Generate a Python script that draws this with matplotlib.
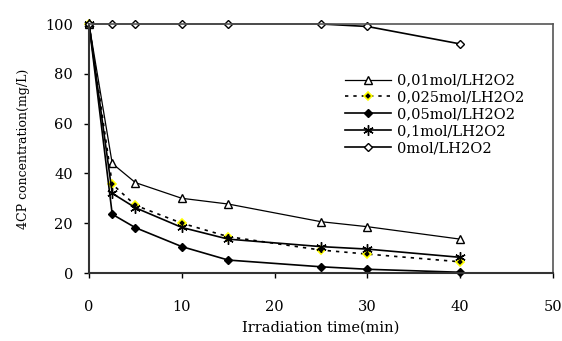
import matplotlib.pyplot as plt
import numpy as np

plt.rcParams['font.family'] = ['DejaVu Serif']

time_min = [0, 2.5, 5, 10, 15, 25, 30, 40]
h2o2_001 = [100, 44, 36.3, 30, 27.7, 20.6, 18.6, 13.6]
h2o2_0025 = [100, 35.7, 27.2, 20, 14.6, 9.2, 7.6, 4.5]
h2o2_005 = [100, 23.6, 18.2, 10.6, 5.2, 2.5, 1.5, 0.3]
h2o2_01 = [100, 32, 26.2, 18.3, 13.6, 10.6, 9.6, 6.3]
h2o2_0 = [100, 100, 100, 100, 100, 100, 99, 92]
labels = ["0,01mol/LH2O2", "0,025mol/LH2O2", "0,05mol/LH2O2", "0,1mol/LH2O2", "0mol/LH2O2"]

fig = plt.figure(figsize=(5.62, 3.41), dpi=100)
ax = fig.add_axes([0.1584, 0.1994, 0.984 - 0.1584, 0.9296 - 0.1994])

ax.plot(time_min, h2o2_001, color='black', lw=0.9, marker='^', ms=5.5,
        mfc='white', mec='black', mew=1.0, label=labels[0], clip_on=False)
ax.plot(time_min, h2o2_0025, color='black', lw=1.2, ls=(0, (2, 3)), marker='D', ms=4.5,
        mfc='black', mec='yellow', mew=1.2, label=labels[1], clip_on=False)
ax.plot(time_min, h2o2_005, color='black', lw=1.2, marker='D', ms=4.5,
        mfc='black', mec='black', label=labels[2], clip_on=False)
ax.plot(time_min, h2o2_01, color='black', lw=1.2, marker=(6, 2, 0), ms=7.5,
        mec='black', mew=1.0, label=labels[3], clip_on=False)
ax.plot(time_min, h2o2_0, color='black', lw=1.2, marker='D', ms=4.5,
        mfc='white', mec='black', mew=1.0, label=labels[4], clip_on=False)

ax.set_xlim(0, 50)
ax.set_ylim(0, 100)
ax.set_xticks(np.arange(0, 51, 10))
ax.set_yticks(np.arange(0, 101, 20))
ax.tick_params(direction='out', length=3.5, width=1, labelsize=10.5)
ax.tick_params(axis='x', pad=16)
ax.tick_params(axis='y', pad=8)

for side in ['left', 'bottom']:
    ax.spines[side].set_linewidth(1.5)
    ax.spines[side].set_color('#333333')
for side in ['top', 'right']:
    ax.spines[side].set_linewidth(1.2)
    ax.spines[side].set_color('#555555')

ax.set_xlabel("Irradiation time(min)", fontsize=10.5, labelpad=5)
ax.set_ylabel("4CP concentration(mg/L)", fontsize=9, labelpad=11)

ax.legend(loc='upper left', bbox_to_anchor=(0.537, 0.83), frameon=False, fontsize=10.5,
          handlelength=3.15, handletextpad=0.35, labelspacing=0.2, borderpad=0)

fig.savefig("out.png", dpi=100)
